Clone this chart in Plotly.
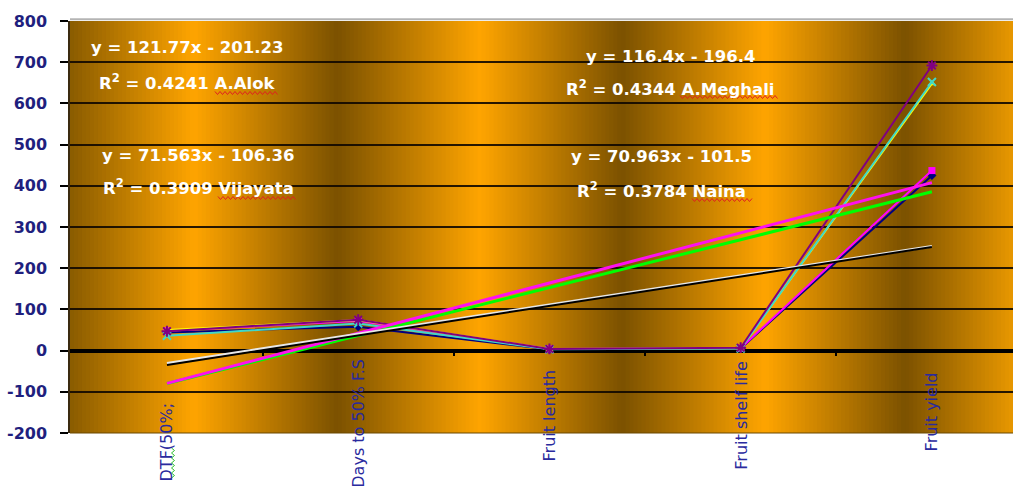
import numpy as np
import plotly.graph_objects as go

# ---------------- data ----------------
categories = ["DTF(50%;", "Days to 50% F.S", "Fruit length", "Fruit shelf life", "Fruit yield"]
cat_index = [1, 2, 3, 4, 5]

naina = [44, 58, 3, 5, 425]
vijayata = [48, 72, 4, 6, 437]
series3 = [50, 74, 4, 6, 648]
a_meghali = [36, 66, 3, 5, 652]
a_alok = [47, 75, 4, 7, 692]

trend_names = ["A.Alok", "A.Meghali", "Vijayata", "Naina"]
trend_slopes = [121.77, 116.4, 71.563, 70.963]
trend_intercepts = [-201.23, -196.4, -106.36, -101.5]
trend_r2 = [0.4241, 0.4344, 0.3909, 0.3784]

y_ticks = [-200, -100, 0, 100, 200, 300, 400, 500, 600, 700, 800]
y_ticklabels = ["-200", "-100", "0", "100", "200", "300", "400", "500", "600", "700", "800"]

# ---------------- styling ----------------
W, H = 1013, 486
ML, MR, MT, MB = 70, 0, 21, 53
PW = W - ML - MR
PH = H - MT - MB

def pxx(px):
    return (px - ML) / PW

def pxy(py):
    return (H - MB - py) / PH

fig = go.Figure()

series_list = [
    ("Naina", naina, "#000080", "diamond", 7, 0),
    ("Vijayata", vijayata, "#FF00FF", "square", 7, 0),
    ("Series3", series3, "#FFFF00", "triangle-up", 7, 0),
    ("A.Meghali", a_meghali, "#40D8C8", "x-thin-open", 8, 2),
    ("A.Alok", a_alok, "#800080", "asterisk-open", 9, 2),
]
for name, vals, col, sym, size, lw in series_list:
    fig.add_trace(go.Scatter(
        x=cat_index, y=vals, name=name, mode="lines+markers",
        line=dict(color=col, width=2),
        marker=dict(symbol=sym, size=size, color=col,
                    line=dict(color=col, width=lw)),
        showlegend=False, cliponaxis=False,
    ))

trend_styles = {
    "A.Alok": ("#FF10F0", 3),
    "A.Meghali": ("#00FF00", 3),
    "Naina": ("#E8E8E8", 2.5),
    "Vijayata": ("#000000", 2),
}
xs = np.array([cat_index[0], cat_index[-1]], dtype=float)
for nm in ["A.Meghali", "A.Alok", "Naina", "Vijayata"]:
    i = trend_names.index(nm)
    col, w = trend_styles[nm]
    fig.add_trace(go.Scatter(
        x=xs, y=trend_slopes[i] * xs + trend_intercepts[i], mode="lines",
        line=dict(color=col, width=w), showlegend=False, hoverinfo="skip",
    ))

# background vertical gradient bands
def hex2rgb(h):
    h = h.lstrip("#")
    return np.array([int(h[k:k + 2], 16) for k in (0, 2, 4)], dtype=float)

stop_px = [70, 194, 337, 480, 622, 765, 905, 1013]
stop_col = ["#8a5c00", "#ffa500", "#7c5200", "#ffa500", "#7c5200", "#ffa500", "#7c5200", "#e89800"]
stop_rgb = [hex2rgb(c) for c in stop_col]
shapes = []
n = 236
for k in range(n):
    pm = ML + PW * (k + 0.5) / n
    rgb = np.array([np.interp(pm, stop_px, [c[j] for c in stop_rgb]) for j in range(3)])
    col = "rgb(%d,%d,%d)" % tuple(rgb.astype(int))
    shapes.append(dict(type="rect", xref="paper", yref="paper",
                       x0=k / n, x1=min(1, (k + 1.6) / n), y0=0, y1=1,
                       fillcolor=col, line=dict(width=0), layer="below"))
# top border
shapes.append(dict(type="line", xref="paper", yref="paper", x0=0, x1=1, y0=1.004, y1=1.004,
                   line=dict(color="#b4b4b4", width=2), layer="above"))
# bottom border
shapes.append(dict(type="line", xref="paper", yref="paper", x0=0, x1=1, y0=0, y1=0,
                   line=dict(color="#6a4800", width=1), layer="above"))

# spell-check squiggles (decoration seen under some words)
def squiggle_h(x0, x1, y, color):
    pts = []
    k = 0
    x = x0
    while x <= x1:
        yy = y + (1.5 if k % 2 else -1.5)
        pts.append("%s%.5f,%.5f" % ("M" if k == 0 else "L", pxx(x), pxy(yy)))
        x += 2.5
        k += 1
    return dict(type="path", xref="paper", yref="paper", path=" ".join(pts),
                line=dict(color=color, width=1), layer="above")

def squiggle_v(x, y0, y1, color):
    pts = []
    k = 0
    y = y0
    while y <= y1:
        xx = x + (1.5 if k % 2 else -1.5)
        pts.append("%s%.5f,%.5f" % ("M" if k == 0 else "L", pxx(xx), pxy(y)))
        y += 2.5
        k += 1
    return dict(type="path", xref="paper", yref="paper", path=" ".join(pts),
                line=dict(color=color, width=1), layer="above")

shapes.append(squiggle_h(215, 278, 93, "#e02020"))
shapes.append(squiggle_h(218, 297, 198, "#e02020"))
shapes.append(squiggle_h(680, 778, 97, "#e02020"))
shapes.append(squiggle_h(692, 752, 200, "#e02020"))
shapes.append(squiggle_v(173, 448, 478, "#30c030"))

annotations = []
fig_xrange = [0.493, 5.424]

label_pos = {
    "A.Alok": (187, 48, 82),
    "Vijayata": (198, 155, 187),
    "A.Meghali": (670, 57, 88),
    "Naina": (661, 157, 190),
}
tfont = dict(family="DejaVu Sans", size=16.5, color="white", weight="bold")
for i, nm in enumerate(trend_names):
    cx, y1p, y2p = label_pos[nm]
    eq = "y = %sx - %s" % (trend_slopes[i], abs(trend_intercepts[i]))
    r2 = "R<sup>2</sup> = %s %s" % (trend_r2[i], nm)
    for txt, py in ((eq, y1p), (r2, y2p)):
        annotations.append(dict(
            x=pxx(cx), y=pxy(py), xref="paper", yref="paper",
            text=txt, showarrow=False, font=tfont, xanchor="center", yanchor="middle"))

# category labels (rotated, below the zero axis)
label_top = [400, 357, 367, 360, 370]
for c, xi, tp in zip(categories, cat_index, label_top):
    annotations.append(dict(
        x=xi, y=pxy(tp), xref="x", yref="paper", text=c, textangle=-90,
        showarrow=False, xanchor="center", yanchor="top",
        font=dict(family="DejaVu Sans", size=16, color="#2a2a9e")))

fig.update_layout(
    width=W, height=H,
    margin=dict(l=ML, r=MR, t=MT, b=MB, pad=0, autoexpand=False),
    paper_bgcolor="white", plot_bgcolor="#c08000",
    shapes=shapes, annotations=annotations,
    xaxis=dict(range=fig_xrange, showgrid=False, zeroline=False, automargin=False,
               anchor="free", position=0.2,
               showline=False, ticks="outside", ticklen=4, tickwidth=2, tickcolor="black",
               tickvals=[1.5, 2.5, 3.5, 4.5], ticktext=["", "", "", ""], showticklabels=False),
    yaxis=dict(range=[-200, 800], tickvals=y_ticks, ticktext=y_ticklabels, automargin=False,
               showgrid=True, gridcolor="rgba(15,8,0,0.9)", gridwidth=2,
               zeroline=True, zerolinecolor="black", zerolinewidth=3.5,
               showline=True, linecolor="#3a2a10", linewidth=1.5,
               ticks="outside", ticklen=8, tickcolor="black", tickwidth=1.5,
               ticklabelstandoff=10,
               tickfont=dict(family="DejaVu Sans", size=16, color="#1f1f7e", weight="bold")),
)

fig.write_html("out.html", config={"displayModeBar": False},
               post_script="document.body.style.margin='0';document.body.style.padding='0';")
